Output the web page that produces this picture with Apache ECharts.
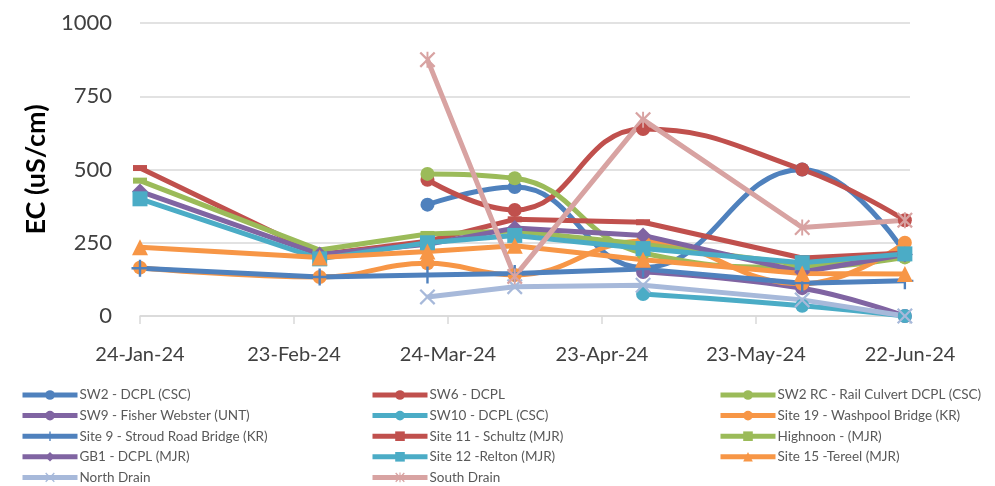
<!DOCTYPE html>
<html lang="en">
<head>
    <meta charset="UTF-8">
    <title>EC readings</title>
    <script src="https://cdn.jsdelivr.net/npm/echarts@6.0.0/dist/echarts.min.js"></script>
</head>
<body style="margin: 0; background-color: #fff;">
    <div id="main" style="width: 995px; height: 486px;"></div>

    <script>
        // sampling dates
        var dates = ['2024-01-24', '2024-02-28', '2024-03-20', '2024-04-06', '2024-05-01', '2024-06-01', '2024-06-21'];
        var axisStart = '2024-01-24';

        // EC values (uS/cm) per site, null = not sampled
        var sw2 = [null, null, 380, 440, 165, 500, 215];
        var sw6 = [null, null, 465, 362, 638, 500, 327];
        var sw2rc = [null, null, 485, 470, 215, 165, 200];
        var sw9 = [null, null, null, null, 150, 95, 0];
        var sw10 = [null, null, null, null, 75, 35, 0];
        var site19 = [165, 133, 180, 140, 255, 110, 250];
        var site9 = [163, 133, 140, 145, 160, 112, 120];
        var site11 = [505, 210, 255, 330, 320, 198, 215];
        var highnoon = [462, 225, 280, 290, 245, 175, 200];
        var gb1 = [425, 210, 245, 300, 275, 150, 210];
        var site12 = [400, 195, 250, 275, 230, 182, 212];
        var site15 = [235, 200, 220, 240, 192, 145, 143];
        var northDrain = [null, null, 65, 100, 105, 55, 0];
        var southDrain = [null, null, 875, 135, 670, 302, 327];

        var DAY = 86400000;
        var MONTHS = ['Jan', 'Feb', 'Mar', 'Apr', 'May', 'Jun', 'Jul', 'Aug', 'Sep', 'Oct', 'Nov', 'Dec'];

        function dayOffset(d) {
            return Math.round((Date.parse(d) - Date.parse(axisStart)) / DAY);
        }

        function fmtDate(off) {
            var t = new Date(Date.parse(axisStart) + off * DAY);
            return t.getUTCDate() + '-' + MONTHS[t.getUTCMonth()] + '-' + String(t.getUTCFullYear()).slice(2);
        }

        function pts(vals) {
            var out = [];
            vals.forEach(function (v, i) {
                if (v !== null) out.push([dayOffset(dates[i]), v]);
            });
            return out;
        }

        // marker shapes
        var plusPath = 'path://M4.3,0 H5.7 V4.3 H10 V5.7 H5.7 V10 H4.3 V5.7 H0 V4.3 H4.3 Z';
        var xPath = 'path://M0,1 L1,0 L5,4 L9,0 L10,1 L6,5 L10,9 L9,10 L5,6 L1,10 L0,9 L4,5 Z';
        var starPath = 'path://M0,1 L1,0 L5,4 L9,0 L10,1 L6,5 L10,9 L9,10 L5,6 L1,10 L0,9 L4,5 Z M4.4,0 H5.6 V10 H4.4 Z';

        function mk(name, vals, color, symbol, size, smooth) {
            return {
                name: name,
                type: 'line',
                data: pts(vals),
                smooth: smooth ? 0.45 : false,
                symbol: symbol,
                symbolSize: size,
                showAllSymbol: true,
                lineStyle: { color: color, width: 5 },
                itemStyle: { color: color, borderWidth: 0 },
                emphasis: { disabled: true }
            };
        }

        var BLUE = '#4F81BD', RED = '#C0504D', GREEN = '#9BBB59', PURPLE = '#8064A2', AQUA = '#4BACC6', ORANGE = '#F79646';

        var series = [
            mk('SW2 - DCPL (CSC)', sw2, BLUE, 'circle', 14, true),
            mk('SW6 - DCPL', sw6, RED, 'circle', 14, true),
            mk('SW2 RC - Rail Culvert DCPL (CSC)', sw2rc, GREEN, 'circle', 14, true),
            mk('SW9 - Fisher Webster (UNT)', sw9, PURPLE, 'circle', 14, true),
            mk('SW10 - DCPL (CSC)', sw10, AQUA, 'circle', 14, true),
            mk('Site 19 - Washpool Bridge (KR)', site19, ORANGE, 'circle', 14, true),
            mk('Site 9 - Stroud Road Bridge (KR)', site9, BLUE, plusPath, 17, false),
            mk('Site 11 - Schultz (MJR)', site11, RED, 'rect', [14, 6], false),
            mk('Highnoon - (MJR)', highnoon, GREEN, 'rect', [14, 6], false),
            mk('GB1 - DCPL (MJR)', gb1, PURPLE, 'diamond', 16, false),
            mk('Site 12 -Relton (MJR)', site12, AQUA, 'rect', 15, false),
            mk('Site 15 -Tereel (MJR)', site15, ORANGE, 'triangle', 16, false),
            mk('North Drain', northDrain, '#A7B9DA', xPath, 16, false),
            mk('South Drain', southDrain, '#D8A3A2', starPath, 16, false)
        ];

        var legendCols = [
            ['SW2 - DCPL (CSC)', 'SW9 - Fisher Webster (UNT)', 'Site 9 - Stroud Road Bridge (KR)', 'GB1 - DCPL (MJR)', 'North Drain'],
            ['SW6 - DCPL', 'SW10 - DCPL (CSC)', 'Site 11 - Schultz (MJR)', 'Site 12 -Relton (MJR)', 'South Drain'],
            ['SW2 RC - Rail Culvert DCPL (CSC)', 'Site 19 - Washpool Bridge (KR)', 'Highnoon - (MJR)', 'Site 15 -Tereel (MJR)']
        ];
        var legendLeft = [20, 370, 718];

        var chart = echarts.init(document.getElementById('main'));

        var option = {
            animation: false,
            backgroundColor: '#fff',
            textStyle: { fontFamily: 'Lato' },
            grid: { left: 140, right: 85, top: 23, bottom: 170, containLabel: false },
            legend: legendCols.map(function (col, i) {
                return {
                    orient: 'vertical',
                    left: legendLeft[i],
                    top: 388,
                    padding: 0,
                    itemWidth: 55,
                    itemHeight: 12,
                    itemGap: 6.6,
                    selectedMode: false,
                    data: col,
                    lineStyle: { width: 5 },
                    textStyle: { color: '#595959', fontSize: 13.5, lineHeight: 14, fontFamily: 'Lato', padding: [0, 0, 0, -3] }
                };
            }),
            xAxis: {
                type: 'value',
                min: 0,
                max: 150,
                interval: 30,
                splitLine: { show: false },
                axisLine: { show: true, lineStyle: { color: '#d9d9d9', width: 1.5 } },
                axisTick: { show: true, length: 8, lineStyle: { color: '#d9d9d9', width: 1.5 } },
                axisLabel: {
                    margin: 29,
                    fontSize: 20,
                    color: '#404040',
                    fontFamily: 'Lato',
                    formatter: function (v) { return fmtDate(v); }
                }
            },
            yAxis: {
                type: 'value',
                min: 0,
                max: 1000,
                interval: 250,
                name: 'EC (uS/cm)',
                nameLocation: 'middle',
                nameGap: 88,
                nameTextStyle: { fontSize: 27, fontWeight: 'bold', color: '#000', fontFamily: 'Lato' },
                axisLine: { show: false },
                axisTick: { show: false },
                splitLine: { lineStyle: { color: '#d9d9d9', width: 1.5 } },
                axisLabel: {
                    margin: 28,
                    fontSize: 22,
                    color: '#404040',
                    fontFamily: 'Lato',
                    formatter: function (v) { return String(v); }
                }
            },
            series: series
        };

        chart.setOption(option);
    </script>
</body>
</html>
